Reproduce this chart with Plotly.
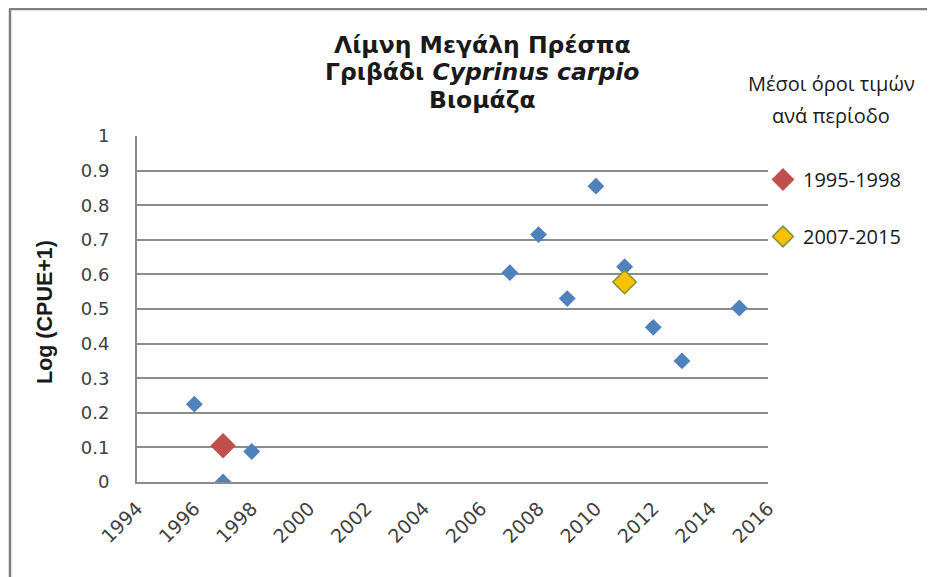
import plotly.graph_objects as go

# ---- data ----
years = [1996, 1997, 1998, 2007, 2008, 2009, 2010, 2011, 2012, 2013, 2015]
log_cpue = [0.225, 0.0, 0.088, 0.605, 0.715, 0.53, 0.855, 0.622, 0.447, 0.35, 0.503]

mean_periods = ["1995-1998", "2007-2015"]
mean_years = [1997, 2011]
mean_values = [0.105, 0.578]
mean_colors = ["#C0504D", "#FFC000"]
mean_lines = ["#C0504D", "#77933C"]

y_ticks = [0, 0.1, 0.2, 0.3, 0.4, 0.5, 0.6, 0.7, 0.8, 0.9, 1]
y_grid = [0.1, 0.2, 0.3, 0.4, 0.5, 0.6, 0.7, 0.8, 0.9]
x_ticks = list(range(1994, 2017, 2))

title_lines = ["<b>Λίμνη Μεγάλη Πρέσπα</b>",
               "<b>Γριβάδι <i>Cyprinus carpio</i></b>",
               "<b>Βιομάζα</b>"]
legend_title_lines = ["Μέσοι όροι τιμών", "ανά περίοδο"]
y_title = "<b>Log (CPUE+1)</b>"

OFF = 8  # page body margin
W, H = 935 - OFF, 577 - OFF
# plot area in screen pixels
SX0, SX1, SY0, SY1 = 137, 768, 136, 482
L, R, T, B = SX0 - OFF, W - (SX1 - OFF), SY0 - OFF, H - (SY1 - OFF)
pw, ph = W - L - R, H - T - B

def px_x(p):  # screen px -> paper x
    return (p - OFF - L) / pw

def px_y(p):  # screen px -> paper y
    return (H - B - (p - OFF)) / ph

fig = go.Figure()
fig.add_trace(go.Scatter(
    x=years, y=log_cpue, mode="markers", showlegend=False,
    marker=dict(symbol="diamond", size=13, color="#4F81BD"),
))
for name, xv, yv, c, lc in zip(mean_periods, mean_years, mean_values, mean_colors, mean_lines):
    fig.add_trace(go.Scatter(
        x=[xv], y=[yv], mode="markers", name=name, legendgroup=name,
        marker=dict(symbol="diamond", size=18, color=c, line=dict(color=lc, width=1.5)),
    ))

# invisible trace for grid axis
fig.add_trace(go.Scatter(x=[1994], y=[0], yaxis="y2", mode="markers",
                         marker=dict(opacity=0), showlegend=False, hoverinfo="skip"))

tick_font = dict(family="DejaVu Sans", size=18, color="#404040")

annotations = []
for txt, sy in zip(title_lines, [45, 72, 100]):
    annotations.append(dict(
        text=txt, xref="paper", yref="paper", x=px_x(482), y=px_y(sy),
        xanchor="center", yanchor="middle", showarrow=False,
        font=dict(family="DejaVu Sans", size=23.5, color="#1a1a1a")))
annotations.append(dict(
    text=y_title, xref="paper", yref="paper",
    x=px_x(45), y=px_y(312), xanchor="center", yanchor="middle",
    textangle=-90, showarrow=False,
    font=dict(family="Liberation Sans, Arial", size=21.5, color="#1a1a1a")))
for txt, sy in zip(legend_title_lines, [83, 115]):
    annotations.append(dict(
        text=txt, xref="paper", yref="paper", x=px_x(831), y=px_y(sy),
        xanchor="center", yanchor="middle", showarrow=False,
        font=dict(family="Open Sans, Noto Sans", size=20, color="#1a1a1a")))

fig.update_layout(
    width=W, height=H,
    margin=dict(l=L, r=R, t=T, b=B, autoexpand=False),
    paper_bgcolor="white", plot_bgcolor="white",
    xaxis=dict(
        range=[1994, 2016], tickvals=x_ticks, tickangle=-45,
        showgrid=False, zeroline=False, showline=True, linecolor="#8c8c8c", linewidth=2,
        ticks="", tickfont=dict(family="DejaVu Sans", size=19, color="#404040"),
        ticklabelshift=0, ticklabelstandoff=6,
    ),
    yaxis=dict(
        range=[0, 1], tickvals=y_ticks, ticktext=[f"{v:g}" for v in y_ticks],
        showgrid=False, zeroline=False, showline=True, linecolor="#8c8c8c", linewidth=2,
        ticks="", ticklabelstandoff=22, tickfont=tick_font,
    ),
    yaxis2=dict(
        range=[0, 1], tickvals=y_grid, overlaying="y", showticklabels=False,
        showgrid=True, gridcolor="#8c8c8c", gridwidth=2, zeroline=False, showline=False,
        ticks="", layer="below traces",
    ),
    legend=dict(
        x=px_x(763), xanchor="left", y=px_y(160), yanchor="top",
        font=dict(family="Open Sans, Noto Sans", size=20, color="#1a1a1a"),
        bgcolor="rgba(0,0,0,0)", tracegroupgap=28, itemsizing="trace",
    ),
    annotations=annotations,
    shapes=[
        dict(type="rect", xref="paper", yref="y", x0=px_x(750), x1=px_x(772),
             y0=0.45, y1=0.95, fillcolor="white", line=dict(width=0), layer="between"),
        dict(type="line", xref="paper", yref="paper", x0=px_x(9), x1=px_x(945),
             y0=px_y(9), y1=px_y(9), line=dict(color="#7f7f7f", width=2.5)),
        dict(type="line", xref="paper", yref="paper", x0=px_x(10), x1=px_x(10),
             y0=px_y(9), y1=px_y(590), line=dict(color="#7f7f7f", width=2.5)),
    ],
)

fig.write_html("out.html")
